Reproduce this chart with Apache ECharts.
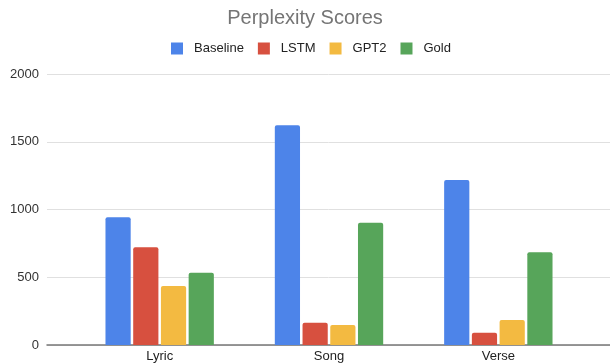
<!DOCTYPE html>
<html>
<head>
<meta charset="utf-8">
<script src="https://cdn.jsdelivr.net/npm/echarts@6/dist/echarts.min.js"></script>
<style>
html,body{margin:0;padding:0;background:#fff;}
#chart{width:610px;height:364px;}
</style>
</head>
<body>
<div id="chart"></div>
<script>
var categories = ['Lyric', 'Song', 'Verse'];
var seriesNames = ['Baseline', 'LSTM', 'GPT2', 'Gold'];
var baseline = [942, 1621, 1218];
var lstm = [721, 165, 91];
var gpt2 = [435, 148, 185];
var gold = [534, 903, 684];
var yTicks = [0, 500, 1000, 1500, 2000];

var colors = ['#4d84e9', '#d7503f', '#f3ba41', '#57a55a'];
var values = [baseline, lstm, gpt2, gold];

var chart = echarts.init(document.getElementById('chart'));
var font = '"Liberation Sans", Arial, Helvetica, sans-serif';

var series = seriesNames.map(function (name, i) {
  return {
    name: name,
    type: 'bar',
    xAxisIndex: 1,
    yAxisIndex: 1,
    data: values[i],
    barGap: '10%',
    barCategoryGap: '36%',
    itemStyle: { color: colors[i], borderRadius: [2, 2, 0, 0] }
  };
});

chart.setOption({
  animation: false,
  backgroundColor: '#ffffff',
  textStyle: { fontFamily: font },
  title: {
    text: 'Perplexity Scores',
    left: 'center',
    top: 3,
    textStyle: { fontFamily: font, fontSize: 20, fontWeight: 'normal', color: '#757575' }
  },
  legend: {
    data: seriesNames,
    top: 42,
    left: 171,
    padding: 0,
    icon: 'rect',
    itemWidth: 12,
    itemHeight: 12,
    itemGap: 14,
    textStyle: { fontFamily: font, fontSize: 13, color: '#222', padding: [0, 0, 0, 6] }
  },
  grid: [
    { left: 47, right: 0, top: 74, bottom: 19, containLabel: false },
    { left: 75, right: 27, top: 74, bottom: 19, containLabel: false }
  ],
  xAxis: [
    {
      gridIndex: 0, type: 'value', min: 0, max: 1,
      axisLine: { show: true, onZero: false, lineStyle: { color: '#777', width: 1.5 } },
      axisTick: { show: false }, axisLabel: { show: false }, splitLine: { show: false }
    },
    {
      gridIndex: 1, type: 'category', data: categories,
      axisLine: { show: false }, axisTick: { show: false },
      axisLabel: { fontFamily: font, fontSize: 13, color: '#222', margin: 5 }
    }
  ],
  yAxis: [
    {
      gridIndex: 0, type: 'value', min: yTicks[0], max: yTicks[yTicks.length - 1], interval: 500,
      axisLine: { show: false }, axisTick: { show: false },
      axisLabel: { fontFamily: font, fontSize: 13, color: '#333', margin: 8,
        formatter: function (v) { return String(v); } },
      splitLine: { lineStyle: { color: '#e0e0e0', width: 1 } }
    },
    {
      gridIndex: 1, type: 'value', min: yTicks[0], max: yTicks[yTicks.length - 1], interval: 500,
      show: false, splitLine: { show: false }
    }
  ],
  series: series
});
</script>
</body>
</html>
